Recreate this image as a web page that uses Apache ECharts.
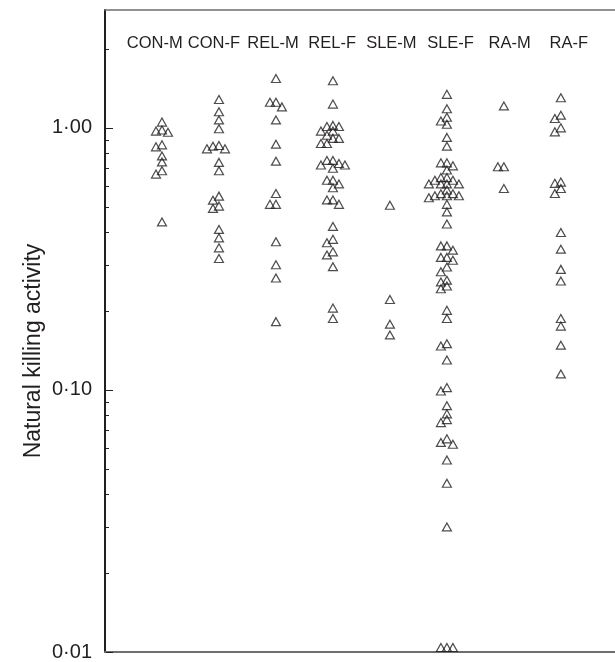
<!DOCTYPE html>
<html><head><meta charset="utf-8">
<script src="https://cdn.jsdelivr.net/npm/echarts@6/dist/echarts.min.js"></script>
<style>html,body{margin:0;padding:0;background:#fff}#c{width:615px;height:662px}</style>
</head><body><div id="c"></div>
<script>
const categories = ['CON-M','CON-F','REL-M','REL-F','SLE-M','SLE-F','RA-M','RA-F'];
const conM = [1.05, 0.98, 0.97, 0.96, 0.86, 0.845, 0.78, 0.74, 0.685, 0.665, 0.437];
const conF = [1.28, 1.15, 1.07, 0.99, 0.855, 0.85, 0.83, 0.83, 0.737, 0.685, 0.548, 0.529, 0.502, 0.492, 0.409, 0.38, 0.348, 0.317];
const relM = [1.54, 1.25, 1.25, 1.20, 1.07, 0.865, 0.745, 0.561, 0.51, 0.51, 0.367, 0.30, 0.267, 0.182];
const relF = [1.51, 1.23, 1.02, 1.01, 1.01, 0.97, 0.97, 0.935, 0.91, 0.91, 0.87, 0.87, 0.75, 0.75, 0.73, 0.72, 0.72, 0.70, 0.63, 0.63, 0.61, 0.59, 0.53, 0.53, 0.51, 0.42, 0.375, 0.364, 0.336, 0.327, 0.295, 0.205, 0.187];
const sleM = [0.506, 0.221, 0.178, 0.162];
const sleF = [1.34, 1.18, 1.096, 1.06, 1.03, 0.918, 0.85, 0.734, 0.734, 0.715, 0.689, 0.645, 0.645, 0.63, 0.63, 0.61, 0.61, 0.61, 0.61, 0.578, 0.56, 0.56, 0.55, 0.55, 0.55, 0.54, 0.51, 0.477, 0.429, 0.354, 0.354, 0.341, 0.32, 0.32, 0.312, 0.294, 0.282, 0.262, 0.258, 0.249, 0.243, 0.201, 0.187, 0.15, 0.147, 0.13, 0.102, 0.099, 0.087, 0.081, 0.077, 0.075, 0.065, 0.063, 0.062, 0.054, 0.044, 0.030, 0.0104, 0.0104, 0.0104];
const raM = [1.21, 0.709, 0.709, 0.586];
const raF = [1.30, 1.116, 1.084, 0.998, 0.964, 0.62, 0.613, 0.586, 0.561, 0.398, 0.344, 0.288, 0.26, 0.187, 0.175, 0.148, 0.115];
const groups = [conM, conF, relM, relF, sleM, sleF, raM, raF];

const yMajorTicks = [0.01, 0.1, 1];
const yMajorLabels = ['0·01', '0·10', '1·00'];
const yMinorTicks = [0.02, 0.03, 0.04, 0.05, 0.06, 0.07, 0.08, 0.09, 0.2, 0.3, 0.4, 0.5, 0.6, 0.7, 0.8, 0.9, 2];
const yName = 'Natural killing activity';

const FONT = '"Liberation Sans", Arial, Helvetica, sans-serif';
const INK = '#231f20';
const chart = echarts.init(document.getElementById('c'));

function tickSeries(vals, len) {
  return {
    type: 'custom', coordinateSystem: 'cartesian2d', silent: true, clip: false, z: 5,
    data: vals.map(v => [0, v]),
    encode: {x: 0, y: 1},
    renderItem: (params, api) => {
      const y = Math.round(api.coord([0, api.value(1)])[1]) + 0.5;
      const x0 = params.coordSys.x + 1;
      return {type: 'line', shape: {x1: x0, y1: y, x2: x0 + len, y2: y}, style: {stroke: INK, lineWidth: 1}};
    }
  };
}

function buildSeries(offsets) {
  const s = groups.map((g, gi) => ({
    type: 'scatter',
    xAxisIndex: 0,
    symbol: 'triangle',
    symbolSize: [9, 8],
    itemStyle: {color: 'rgba(255,255,255,0)', borderColor: INK, borderWidth: 1.2},
    data: g.map((v, i) => ({value: [gi + 1, v], symbolOffset: [offsets ? offsets[gi][i] : 0, 0]})),
    z: 3
  }));
  s.push(tickSeries(yMajorTicks, 7));
  s.push(tickSeries(yMinorTicks, 3));
  return s;
}

const option = {
  animation: false,
  backgroundColor: '#fff',
  textStyle: {fontFamily: FONT},
  grid: {left: 105, right: 0, top: 10, bottom: 10, containLabel: false},
  xAxis: [
    {type: 'value', min: 0, max: 8.95, position: 'bottom',
     axisLine: {show: true, onZero: false, lineStyle: {color: '#6d6e71', width: 2}},
     axisTick: {show: false}, axisLabel: {show: false}, splitLine: {show: false}},
    {type: 'value', min: 0.16, max: 8.78, position: 'top',
     axisLine: {show: true, onZero: false, lineStyle: {color: '#6d6e71', width: 1.5}},
     axisTick: {show: false}, splitLine: {show: false},
     axisLabel: {show: true, inside: true, margin: 25, customValues: categories.map((c, i) => i + 1),
       formatter: v => categories[Math.round(v) - 1] || '', color: INK, fontSize: 16.5, fontFamily: FONT}}
  ],
  yAxis: {
    type: 'log', logBase: 10, min: 0.01, max: 2.81,
    axisLine: {show: true, onZero: false, lineStyle: {color: INK, width: 2}},
    axisTick: {show: false}, minorTick: {show: false}, splitLine: {show: false},
    axisLabel: {color: INK, fontSize: 20, margin: 13, fontFamily: FONT,
      formatter: v => {
        for (let i = 0; i < yMajorTicks.length; i++) {
          if (Math.abs(v - yMajorTicks[i]) / yMajorTicks[i] < 1e-6) return yMajorLabels[i];
        }
        return '';
      }},
    name: yName, nameLocation: 'middle', nameRotate: 90, nameGap: 60, nameMoveOverlap: false,
    nameTextStyle: {color: INK, fontSize: 23, fontFamily: FONT, padding: [0, 40, 0, 0]}
  },
  series: buildSeries(null)
};
chart.setOption(option);

// beeswarm offsets computed in pixel space from the chart's own scale
const step = 6, thr = 5.5;
const cands = [0, -step, step, -2 * step, 2 * step, -3 * step, 3 * step, -4 * step, 4 * step];
const offsets = groups.map((g, gi) => {
  const pys = g.map(v => chart.convertToPixel({gridIndex: 0}, [gi + 1, v])[1]);
  const idx = pys.map((y, i) => i).sort((a, b) => pys[a] - pys[b]);
  const placed = [];
  const dx = new Array(g.length).fill(0);
  for (const i of idx) {
    for (const c of cands) {
      if (placed.every(p => Math.abs(p.x - c) >= step - 0.01 || Math.abs(p.y - pys[i]) >= thr)) {
        dx[i] = c; placed.push({x: c, y: pys[i]}); break;
      }
    }
  }
  return dx;
});
chart.setOption({series: buildSeries(offsets)});
</script>
</body></html>
